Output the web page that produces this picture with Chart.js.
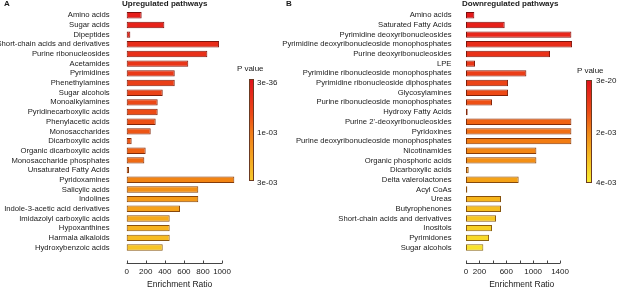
<!DOCTYPE html>
<html>
<head>
<meta charset="utf-8">
<script src="https://cdn.jsdelivr.net/npm/chart.js@4.4.1/dist/chart.umd.min.js"></script>
<style>
  body { margin: 0; width: 617px; height: 291px; background: #fff; position: relative; overflow: hidden;
         font-family: "Liberation Sans", Arial, sans-serif; color: #1a1a1a; }
  canvas { position: absolute; top: 0; }
  .txt { position: absolute; font-size: 8px; line-height: 8px; white-space: nowrap; }
  .bold { font-weight: bold; }
  .cbar { position: absolute; box-sizing: border-box; border: 1px solid #6b3a22; }
</style>
</head>
<body>
<canvas id="chartA" width="240" height="291" style="left:0"></canvas>
<canvas id="chartB" width="320" height="291" style="left:270px"></canvas>

<div class="txt bold" style="left:4px;top:0">A</div>
<div class="txt bold" style="left:122px;top:0">Upregulated pathways</div>
<div class="txt bold" style="left:286px;top:0">B</div>
<div class="txt bold" style="left:462px;top:0">Downregulated pathways</div>

<div class="txt" style="left:237px;top:65px">P value</div>
<div class="cbar" style="left:249px;top:79px;width:5px;height:102px;background:linear-gradient(#e0121c,#ec4a16 35%,#f07a18 52%,#f3a020 75%,#f6c82c)"></div>
<div class="txt" style="left:257px;top:79px">3e-36</div>
<div class="txt" style="left:257px;top:129px">1e-03</div>
<div class="txt" style="left:257px;top:179px">3e-03</div>

<div class="txt" style="left:577px;top:67px">P value</div>
<div class="cbar" style="left:586px;top:80px;width:6px;height:103px;background:linear-gradient(#e0121c,#ec4a16 30%,#f08a18 52%,#f5bb22 75%,#f8ec30)"></div>
<div class="txt" style="left:596px;top:77px">3e-20</div>
<div class="txt" style="left:596px;top:129px">2e-03</div>
<div class="txt" style="left:596px;top:179px">4e-03</div>

<script>
// Upregulated pathways (panel A)
const upLabels = [
  'Amino acids', 'Sugar acids', 'Dipeptides', 'Short-chain acids and derivatives',
  'Purine ribonucleosides', 'Acetamides', 'Pyrimidines', 'Phenethylamines',
  'Sugar alcohols', 'Monoalkylamines', 'Pyridinecarboxylic acids', 'Phenylacetic acids',
  'Monosaccharides', 'Dicarboxylic acids', 'Organic dicarboxylic acids',
  'Monosaccharide phosphates', 'Unsaturated Fatty Acids', 'Pyridoxamines',
  'Salicylic acids', 'Indolines', 'Indole-3-acetic acid derivatives',
  'Imidazolyl carboxylic acids', 'Hypoxanthines', 'Harmala alkaloids', 'Hydroxybenzoic acids'
];
const upRatio = [157, 395, 38, 969, 846, 646, 504, 504, 378, 325, 325, 304, 252, 52, 199, 185, 24,
                 1129, 751, 751, 559, 451, 451, 451, 378];
const upTicks = [0, 200, 400, 600, 800, 1000];

// Downregulated pathways (panel B)
const downLabels = [
  'Amino acids', 'Saturated Fatty Acids', 'Pyrimidine deoxyribonucleosides',
  'Pyrimidine deoxyribonucleoside monophosphates', 'Purine deoxyribonucleosides', 'LPE',
  'Pyrimidine ribonucleoside monophosphates', 'Pyrimidine ribonucleoside diphosphates',
  'Glycosylamines', 'Purine ribonucleoside monophosphates', 'Hydroxy Fatty Acids',
  "Purine 2'-deoxyribonucleosides", 'Pyridoxines', 'Purine deoxyribonucleoside monophosphates',
  'Nicotinamides', 'Organic phosphoric acids', 'Dicarboxylic acids', 'Delta valerolactones',
  'Acyl CoAs', 'Ureas', 'Butyrophenones', 'Short-chain acids and derivatives',
  'Inositols', 'Pyrimidones', 'Sugar alcohols'
];
const downRatio = [124, 576, 1569, 1579, 1251, 134, 899, 626, 626, 387, 25, 1569, 1569, 1569,
                   1048, 1048, 40, 784, 20, 521, 521, 447, 387, 343, 258];
const downTicks = [0, 200, 600, 1000, 1400];

const FONT = '"Liberation Sans", Arial, sans-serif';

function hex(c) { return [1, 3, 5].map(i => parseInt(c.slice(i, i + 2), 16)); }
function ramp(t, stops) {
  for (let k = 1; k < stops.length; k++) {
    if (t <= stops[k][0]) {
      const [t0, c0] = stops[k - 1], [t1, c1] = stops[k];
      const f = (t - t0) / (t1 - t0), a = hex(c0), b = hex(c1);
      return a.map((v, i) => Math.round(v + (b[i] - v) * f));
    }
  }
  return hex(stops[stops.length - 1][1]);
}
const rgb = c => `rgb(${c[0]},${c[1]},${c[2]})`;
const dark = c => `rgb(${Math.round(c[0] * 0.55)},${Math.round(c[1] * 0.45)},${Math.round(c[2] * 0.45)})`;

// draws the R-style axis line from 0 to the last labelled tick
const axisLine = {
  id: 'axisLine',
  afterDraw(chart) {
    const x = chart.scales.x, ctx = chart.ctx, y0 = chart.chartArea.bottom;
    const vals = x.ticks.map(t => t.value);
    ctx.save();
    ctx.strokeStyle = '#444';
    ctx.lineWidth = 1;
    ctx.beginPath();
    ctx.moveTo(x.getPixelForValue(vals[0]), y0 + 0.5);
    ctx.lineTo(x.getPixelForValue(vals[vals.length - 1]), y0 + 0.5);
    vals.forEach(v => {
      const px = Math.round(x.getPixelForValue(v)) + 0.5;
      ctx.moveTo(px, y0 + 0.5);
      ctx.lineTo(px, y0 - 2.5);
    });
    ctx.stroke();
    ctx.restore();
  }
};

function makeChart(id, labels, values, tickVals, lastTick, xMax, yWidth, labelGap, padRight, stops) {
  const cols = values.map((v, i) => ramp(i / (values.length - 1), stops));
  return new Chart(document.getElementById(id), {
    type: 'bar',
    data: {
      datasets: [{
        data: values.map((v, i) => ({ x: v, y: i })),
        backgroundColor: cols.map(rgb),
        borderColor: cols.map(dark),
        borderWidth: 1,
        borderSkipped: false,
        barPercentage: 0.66,
        categoryPercentage: 1,
        clip: false
      }]
    },
    options: {
      indexAxis: 'y',
      responsive: false,
      animation: false,
      events: [],
      layout: { padding: { top: 10.45, left: 0, right: padRight, bottom: 0 } },
      plugins: { legend: { display: false }, tooltip: { enabled: false } },
      scales: {
        y: {
          type: 'linear',
          reverse: true,
          offset: false,
          min: -0.5,
          max: 25.6,
          afterBuildTicks(s) { s.min = -0.5; s.max = 25.6; },
          afterFit(s) { s.width = yWidth; s.paddingTop = 0; s.paddingBottom = 0; },
          grid: { display: false },
          border: { display: false },
          ticks: {
            stepSize: 1,
            autoSkip: false,
            includeBounds: false,
            maxTicksLimit: 40,
            padding: labelGap,
            color: '#1a1a1a',
            font: { family: FONT, size: 7.7 },
            callback: v => labels[v] !== undefined ? labels[v] : ''
          }
        },
        x: {
          type: 'linear',
          min: 0,
          max: xMax,
          afterBuildTicks(s) {
            s.ticks = s.ticks.filter(t => t.value <= lastTick);
            s.min = 0;
            s.max = xMax;
          },
          afterFit(s) { s.height = 28; },
          grid: { display: false },
          border: { display: false },
          ticks: {
            stepSize: 200,
            autoSkip: false,
            includeBounds: false,
            maxRotation: 0,
            padding: -4,
            color: '#1a1a1a',
            font: { family: FONT, size: 8 },
            callback: v => tickVals.includes(v) ? String(v) : ''
          },
          title: {
            display: true,
            text: 'Enrichment Ratio',
            color: '#1a1a1a',
            font: { family: FONT, size: 8.5 },
            padding: { top: 0, bottom: 1 }
          }
        }
      }
    },
    plugins: [axisLine]
  });
}

makeChart('chartA', upLabels, upRatio, upTicks, 1000, 1112, 126.7, 9, 7.3,
  [[0, '#e61e1b'], [0.55, '#ee5a14'], [0.68, '#f07612'], [0.72, '#f38a14'], [1, '#f7c424']]);
makeChart('chartB', downLabels, downRatio, downTicks, 1400, 1660, 196, 6.5, 12.5,
  [[0, '#e61a1b'], [0.4, '#ee5214'], [0.55, '#f27e12'], [0.75, '#f5ac18'], [1, '#f8e22c']]);
</script>
</body>
</html>
